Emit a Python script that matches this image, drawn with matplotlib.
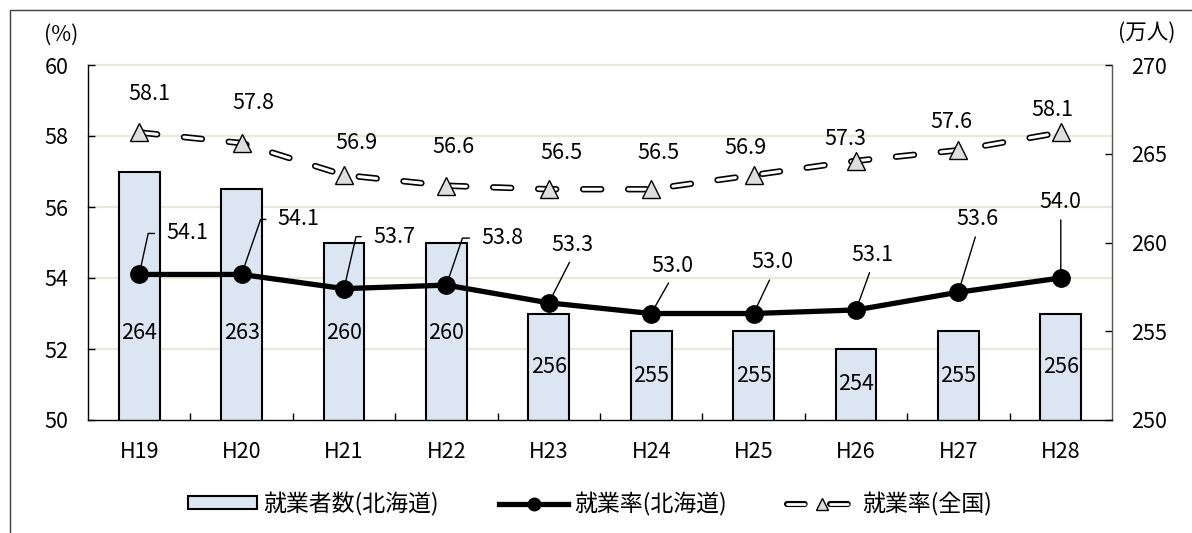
import numpy as np
import matplotlib
matplotlib.use("Agg")
import matplotlib.pyplot as plt
import matplotlib.transforms as mtransforms
from matplotlib.lines import Line2D
from matplotlib.patches import Patch, Rectangle
from matplotlib.legend_handler import HandlerTuple

plt.rcParams['font.family'] = ['Noto Sans CJK JP', 'DejaVu Sans']
plt.rcParams['lines.scale_dashes'] = False

# 年度
years = ["H19", "H20", "H21", "H22", "H23", "H24", "H25", "H26", "H27", "H28"]
# 就業者数(北海道) 万人
workers = [264, 263, 260, 260, 256, 255, 255, 254, 255, 256]
# 就業率(北海道) %
rate_hokkaido = [54.1, 54.1, 53.7, 53.8, 53.3, 53.0, 53.0, 53.1, 53.6, 54.0]
# 就業率(全国) %
rate_japan = [58.1, 57.8, 56.9, 56.6, 56.5, 56.5, 56.9, 57.3, 57.6, 58.1]

rate_ticks = [50, 52, 54, 56, 58, 60]
worker_ticks = [250, 255, 260, 265, 270]

# ラベル配置 (ピクセル単位のずらし)
japan_label_offsets = [(10, 38), (12, 40), (12, 32), (7, 39), (13, 36),
                       (7, 36), (-8, 27), (-11, 22), (-7, 28), (-8, 22)]
hokkaido_label_offsets = [(48, 41), (57, 55), (50, 52), (56, 47), (24, 58),
                          (21, 48), (19, 51), (16, 55), (19, 73), (0, 76)]
# 折れ線の引き出し線の曲がり位置 (None は直線)
hokkaido_elbow_x = [9, 19, 12, 16, None, None, None, None, None, None]

W, H = 1192, 533
fig = plt.figure(figsize=(W / 100, H / 100), dpi=100)
ax_bar = fig.add_axes([88 / W, 1 - 420 / H, (1112 - 88) / W, (420 - 65) / H])
ax_rate = ax_bar.twinx()
ax_bar.yaxis.tick_right()
ax_rate.yaxis.tick_left()

x = np.arange(len(years))
FS = 15.5

# 目盛線 (左軸基準、棒の後ろ)
grid_tr = mtransforms.blended_transform_factory(ax_bar.transAxes, ax_rate.transData)
for t in rate_ticks[1:]:
    ax_bar.plot([0, 1], [t, t], transform=grid_tr, color='#ebe7dc', lw=1.6,
                zorder=0, clip_on=False)

# 就業者数 棒グラフ
bar_color = '#dce6f2'
ax_bar.bar(x, workers, width=0.4, color=bar_color, edgecolor='black', lw=1.5, zorder=2)
ax_bar.set_ylim(worker_ticks[0], worker_ticks[-1])
ax_bar.set_xlim(-0.5, len(years) - 0.5)
ax_bar.set_yticks(worker_ticks)
ax_bar.set_xticks(x)
ax_bar.set_xticklabels(years)
ax_bar.set_xticks(x[:-1] + 0.5, minor=True)
ax_bar.tick_params(axis='x', which='major', length=0, pad=15, labelsize=FS)
ax_bar.tick_params(axis='x', which='minor', direction='in', length=5, width=1)
ax_bar.tick_params(axis='y', direction='in', length=5, width=1, pad=14, labelsize=FS)
for s in ax_bar.spines.values():
    s.set_visible(False)

for i, v in enumerate(workers):
    mid = (worker_ticks[0] + v) / 2
    ax_bar.text(i, min(mid, 254.9), str(v), ha='center', va='center', fontsize=FS, zorder=3)

# 就業率(全国) 二重破線
dash = (0, (13, 19.4))
ax_rate.plot(x, rate_japan, color='black', lw=4.6, linestyle=dash,
             dash_capstyle='round', zorder=3)
ax_rate.plot(x, rate_japan, color='white', lw=2.2, linestyle=dash,
             dash_capstyle='round', zorder=3.1)
ax_rate.plot(x, rate_japan, linestyle='none', marker='^', ms=13,
             mfc='#dedede', mec='black', mew=1, zorder=3.2)

# 就業率(北海道)
ax_rate.plot(x, rate_hokkaido, color='black', lw=3.8, marker='o', ms=12.5,
             solid_joinstyle='round', zorder=4)

ax_rate.set_ylim(rate_ticks[0], rate_ticks[-1])
ax_rate.set_yticks(rate_ticks)
ax_rate.tick_params(axis='y', direction='in', length=5, width=1, pad=14, labelsize=FS)
ax_rate.spines['top'].set_visible(False)
for k in ('left', 'right', 'bottom'):
    ax_rate.spines[k].set_color('black')
    ax_rate.spines[k].set_linewidth(1)
ax_rate.spines['right'].set_color('#555555')

for i, v in enumerate(rate_japan):
    dx, dy = japan_label_offsets[i]
    ax_rate.annotate(f"{v:.1f}", xy=(i, v), xytext=(dx, dy), textcoords='offset pixels',
                     ha='center', va='center', fontsize=FS, zorder=5)

for i, v in enumerate(rate_hokkaido):
    dx, dy = hokkaido_label_offsets[i]
    ex = hokkaido_elbow_x[i]
    if ex is not None:
        ang = np.degrees(np.arctan2(dy, ex))
        arrow = dict(arrowstyle='-', color='black', lw=1, shrinkA=6.5, shrinkB=0,
                     relpos=(0, 0.5),
                     connectionstyle=f"angle,angleA=0,angleB={ang:.1f},rad=0")
    else:
        arrow = dict(arrowstyle='-', color='black', lw=1, shrinkA=3, shrinkB=6,
                     relpos=(0.5, 0))
    ax_rate.annotate(f"{v:.1f}", xy=(i, v), xytext=(dx, dy), textcoords='offset pixels',
                     ha='center', va='center', fontsize=FS, zorder=5, arrowprops=arrow)

# 単位
fig.text(61 / W, 1 - 35 / H, "(%)", ha='center', va='center', fontsize=FS)
fig.text(1147 / W, 1 - 33 / H, "(万人)", ha='center', va='center', fontsize=FS)

# 凡例
h_bar = Patch(facecolor=bar_color, edgecolor='black', lw=1.5)
h_hok = Line2D([], [], color='black', lw=3.8, marker='o', ms=9)
legend_dash = (0, (12.7, 18.3))
h_jp = (Line2D([], [], color='black', lw=4.4, linestyle=legend_dash, dash_capstyle='round'),
        Line2D([], [], color='white', lw=2.0, linestyle=legend_dash, dash_capstyle='round'),
        Line2D([], [], linestyle='none', marker='^', ms=8, mfc='#dedede', mec='black', mew=1))
fig.legend([h_bar, h_hok, h_jp], ["就業者数(北海道)", "就業率(北海道)", "就業率(全国)"],
           handler_map={tuple: HandlerTuple(ndivide=1, pad=0)},
           loc='center', bbox_to_anchor=(590 / W, 1 - 504 / H), ncol=3,
           frameon=False, fontsize=16.5, handlelength=3.05, handleheight=0.5,
           handletextpad=0.26, columnspacing=2.6, borderpad=0)

# 外枠
fig.add_artist(Rectangle((9.5 / W, -0.1), 2, 1.1 - 10.5 / H, transform=fig.transFigure,
                         fill=False, edgecolor='#404040', lw=1, clip_on=False))

fig.savefig("out.png", dpi=100)
